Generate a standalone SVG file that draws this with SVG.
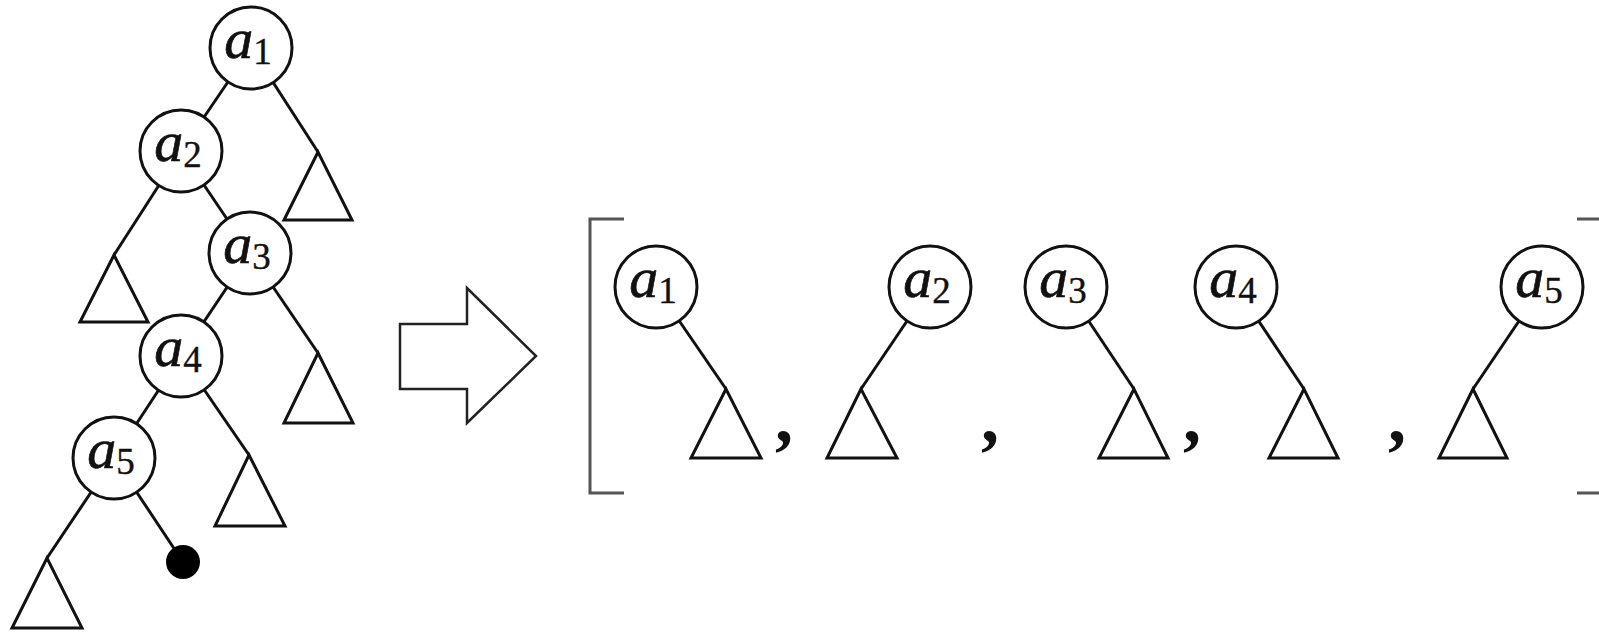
<svg xmlns="http://www.w3.org/2000/svg" width="1599" height="634" viewBox="0 0 1599 634">
<style>
.e{stroke:#111;stroke-width:3;fill:none}
.n{fill:#fff;stroke:#111;stroke-width:3}
.t{fill:none;stroke:#111;stroke-width:3;stroke-linejoin:miter}
.lab{font-family:"Liberation Serif","DejaVu Serif",serif;font-size:58px;fill:#111;stroke:#111;stroke-width:0.7}
.lab .v{font-style:italic}
.lab .s{font-size:37px;stroke-width:0.4}
.cm{font-family:"Liberation Serif","DejaVu Serif",serif;font-size:72px;font-weight:bold;fill:#111}
.br{fill:none;stroke:#555;stroke-width:3}
</style>
<rect width="1599" height="634" fill="#fff"/>
<g id="connectors">
<line class="e" x1="251" y1="48" x2="181" y2="151"/>
<line class="e" x1="251" y1="48" x2="318" y2="152"/>
<line class="e" x1="181" y1="151" x2="114" y2="255"/>
<line class="e" x1="181" y1="151" x2="250" y2="253"/>
<line class="e" x1="250" y1="253" x2="181" y2="356"/>
<line class="e" x1="250" y1="253" x2="318" y2="353"/>
<line class="e" x1="181" y1="356" x2="114" y2="458"/>
<line class="e" x1="181" y1="356" x2="249" y2="455"/>
<line class="e" x1="114" y1="458" x2="47" y2="558"/>
<line class="e" x1="114" y1="458" x2="183" y2="562"/>
<line class="e" x1="656" y1="287" x2="726" y2="389"/>
<line class="e" x1="930" y1="287" x2="861" y2="389"/>
<line class="e" x1="1066" y1="287" x2="1134" y2="389"/>
<line class="e" x1="1236" y1="287" x2="1304" y2="389"/>
<line class="e" x1="1542" y1="287" x2="1473" y2="389"/>
</g>
<g id="subtrees">
<polygon class="t" points="318,152 284,220 352,220"/>
<polygon class="t" points="114,255 80,322 148,322"/>
<polygon class="t" points="318,353 284,423 353,423"/>
<polygon class="t" points="249,455 215,526 285,526"/>
<polygon class="t" points="47,558 12,628 82,628"/>
<polygon class="t" points="726,389 691,458 761,458"/>
<polygon class="t" points="861,389 827,458 897,458"/>
<polygon class="t" points="1134,389 1099,458 1168,458"/>
<polygon class="t" points="1304,389 1269,458 1338,458"/>
<polygon class="t" points="1473,389 1439,458 1507,458"/>
</g>
<g id="dot"><circle cx="183" cy="562" r="17" fill="#000"/></g>
<g id="node-a1"><circle class="n" cx="251" cy="48" r="41"/><text class="lab" x="248" y="58" text-anchor="middle"><tspan class="v">a</tspan><tspan class="s" dy="6">1</tspan></text></g>
<g id="node-a2"><circle class="n" cx="181" cy="151" r="41"/><text class="lab" x="178" y="161" text-anchor="middle"><tspan class="v">a</tspan><tspan class="s" dy="6">2</tspan></text></g>
<g id="node-a3"><circle class="n" cx="250" cy="253" r="41"/><text class="lab" x="247" y="263" text-anchor="middle"><tspan class="v">a</tspan><tspan class="s" dy="6">3</tspan></text></g>
<g id="node-a4"><circle class="n" cx="181" cy="356" r="41"/><text class="lab" x="178" y="366" text-anchor="middle"><tspan class="v">a</tspan><tspan class="s" dy="6">4</tspan></text></g>
<g id="node-a5"><circle class="n" cx="114" cy="458" r="41"/><text class="lab" x="111" y="468" text-anchor="middle"><tspan class="v">a</tspan><tspan class="s" dy="6">5</tspan></text></g>
<g id="arrow"><polygon points="400,324 467,324 467,288 536,356 467,423 467,389 400,389" fill="#fff" stroke="#222" stroke-width="2.5"/></g>
<g id="brackets">
<polyline class="br" points="624,219 590,219 590,493 624,493"/>
<polyline class="br" points="1577,219 1601,219 1601,493 1577,493"/>
</g>
<g id="list-a1"><circle class="n" cx="656" cy="287" r="41"/><text class="lab" x="653" y="297" text-anchor="middle"><tspan class="v">a</tspan><tspan class="s" dy="6">1</tspan></text></g>
<g id="list-a2"><circle class="n" cx="930" cy="287" r="41"/><text class="lab" x="927" y="297" text-anchor="middle"><tspan class="v">a</tspan><tspan class="s" dy="6">2</tspan></text></g>
<g id="list-a3"><circle class="n" cx="1066" cy="287" r="41"/><text class="lab" x="1063" y="297" text-anchor="middle"><tspan class="v">a</tspan><tspan class="s" dy="6">3</tspan></text></g>
<g id="list-a4"><circle class="n" cx="1236" cy="287" r="41"/><text class="lab" x="1233" y="297" text-anchor="middle"><tspan class="v">a</tspan><tspan class="s" dy="6">4</tspan></text></g>
<g id="list-a5"><circle class="n" cx="1542" cy="287" r="41"/><text class="lab" x="1539" y="297" text-anchor="middle"><tspan class="v">a</tspan><tspan class="s" dy="6">5</tspan></text></g>
<g id="commas">
<text class="cm" x="784" y="442" text-anchor="middle">,</text>
<text class="cm" x="990" y="442" text-anchor="middle">,</text>
<text class="cm" x="1192" y="442" text-anchor="middle">,</text>
<text class="cm" x="1397" y="442" text-anchor="middle">,</text>
</g>
</svg>
